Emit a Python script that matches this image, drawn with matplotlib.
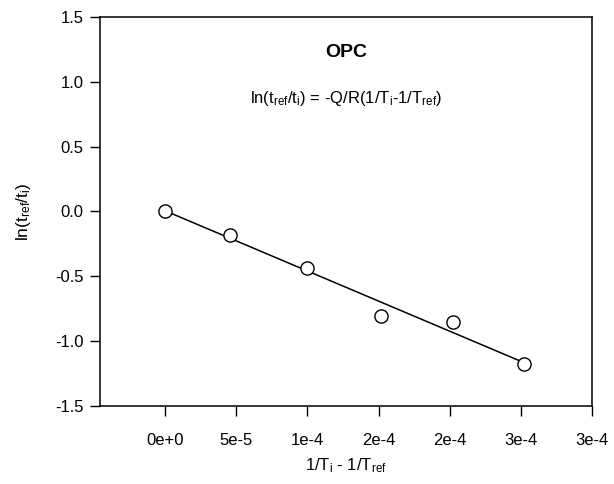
import numpy as np
import matplotlib
matplotlib.use("Agg")
import matplotlib.pyplot as plt

plt.rcParams['font.family'] = ['Liberation Sans', 'DejaVu Sans']
plt.rcParams['mathtext.fontset'] = 'custom'
plt.rcParams['mathtext.rm'] = 'Liberation Sans'
plt.rcParams['mathtext.it'] = 'Liberation Sans'

# data
inv_temp_diff = [0.0, 4.54e-5, 9.97e-5, 1.52e-4, 2.02e-4, 2.52e-4]
ln_time_ratio = [0.0, -0.18, -0.44, -0.81, -0.85, -1.18]

x_ticks = [0.0, 5e-5, 1e-4, 1.5e-4, 2e-4, 2.5e-4, 3e-4]
x_tick_labels = ["0e+0", "5e-5", "1e-4", "2e-4", "2e-4", "3e-4", "3e-4"]
y_ticks = [-1.5, -1.0, -0.5, 0.0, 0.5, 1.0, 1.5]


def main():
    fig = plt.figure(figsize=(6.14, 4.84), dpi=100)
    ax = fig.add_axes([0.1634, 0.1618, 0.8008, 0.8025])

    x = np.array(inv_temp_diff)
    y = np.array(ln_time_ratio)
    slope, intercept = np.polyfit(x, y, 1)
    xf = np.array([x.min(), x.max()])
    ax.plot(xf, slope * xf + intercept, color='black', lw=1.1, zorder=2)
    ax.plot(x, y, 'o', ms=9.5, mfc='white', mec='black', mew=1.0, zorder=3)

    ax.set_xlim(-4.55e-5, 3e-4)
    ax.set_ylim(-1.5, 1.5)
    ax.set_xticks(x_ticks)
    ax.set_xticklabels(x_tick_labels)
    ax.set_yticks(y_ticks)
    ax.set_yticklabels([f"{v:.1f}" for v in y_ticks])

    ax.tick_params(axis='x', direction='out', length=7, width=1, pad=13, labelsize=12)
    ax.tick_params(axis='y', direction='out', length=7, width=1, pad=5, labelsize=12)
    for s in ax.spines.values():
        s.set_linewidth(1.1)

    ax.set_xlabel(r"1/T$_\mathregular{i}$ - 1/T$_\mathregular{ref}$", fontsize=12, labelpad=6)
    ax.set_ylabel(r"ln(t$_\mathregular{ref}$/t$_\mathregular{i}$)", fontsize=12.5, labelpad=16)

    ax.text(0.5, 0.91, "OPC", transform=ax.transAxes, ha='center', va='center',
            fontsize=14, fontweight='bold')
    ax.text(0.5, 0.79,
            r"ln(t$_\mathregular{ref}$/t$_\mathregular{i}$) = -Q/R(1/T$_\mathregular{i}$-1/T$_\mathregular{ref}$)",
            transform=ax.transAxes, ha='center', va='center', fontsize=12)

    fig.savefig("out.png", dpi=100)


if __name__ == "__main__":
    main()
